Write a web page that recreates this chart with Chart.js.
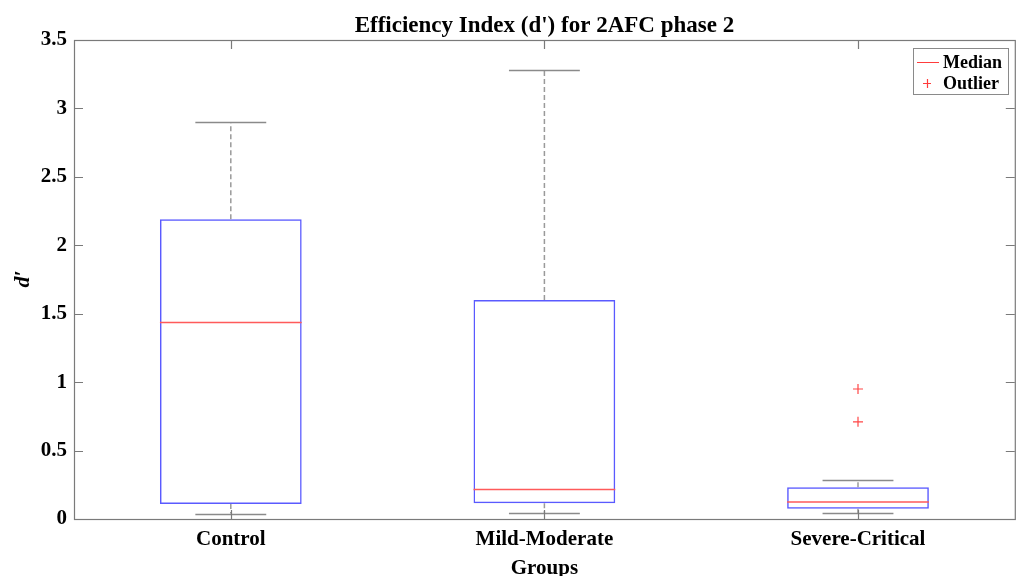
<!DOCTYPE html>
<html>
<head>
<meta charset="utf-8">
<script src="https://cdn.jsdelivr.net/npm/chart.js@4.4.1/dist/chart.umd.min.js"></script>
<style>
  html, body { margin: 0; padding: 0; background: #fff; }
  #wrap { width: 1021px; height: 576px; position: relative; }
</style>
</head>
<body>
<div id="wrap"><canvas id="c" width="1021" height="576"></canvas></div>
<script>
// ---- data ----
const categories = ['Control', 'Mild-Moderate', 'Severe-Critical'];
const lowerWhisker = [0.04, 0.045, 0.042];
const q1Values = [0.11, 0.115, 0.074];
const medianValues = [1.435, 0.215, 0.125];
const q3Values = [2.19, 1.60, 0.232];
const upperWhisker = [2.90, 3.28, 0.283];
const outlierCategory = ['Severe-Critical', 'Severe-Critical'];
const outlierValues = [0.95, 0.71];
const yTickValues = [0, 0.5, 1, 1.5, 2, 2.5, 3, 3.5];

const titleText = "Efficiency Index (d') for 2AFC phase 2";
const xTitleText = 'Groups';
const yTitleText = "d\u2032";

const FONT = "'Liberation Serif', 'Times New Roman', serif";
const FRAME = '#7a7a7a';

const boxPlugin = {
  id: 'boxExtras',
  afterDatasetsDraw(chart) {
    const ctx = chart.ctx;
    const x = chart.scales.x, y = chart.scales.y;
    const meta = chart.getDatasetMeta(0);
    ctx.save();
    categories.forEach((c, i) => {
      const cx = x.getPixelForValue(i);
      const bar = meta.data[i];
      const bw = bar.width;
      const capHalf = bw * 0.25;
      // dashed whiskers
      ctx.strokeStyle = '#9a9a9a';
      ctx.lineWidth = 1.5;
      ctx.setLineDash([5, 3]);
      ctx.beginPath();
      ctx.moveTo(cx, y.getPixelForValue(q3Values[i]));
      ctx.lineTo(cx, y.getPixelForValue(upperWhisker[i]));
      ctx.moveTo(cx, y.getPixelForValue(q1Values[i]));
      ctx.lineTo(cx, y.getPixelForValue(lowerWhisker[i]));
      ctx.stroke();
      ctx.setLineDash([]);
      // caps
      ctx.strokeStyle = '#8a8a8a';
      ctx.beginPath();
      [upperWhisker[i], lowerWhisker[i]].forEach(v => {
        const py = Math.round(y.getPixelForValue(v)) + 0.5;
        ctx.moveTo(cx - capHalf, py);
        ctx.lineTo(cx + capHalf, py);
      });
      ctx.stroke();
      // median
      ctx.strokeStyle = 'rgb(255,90,90)';
      ctx.lineWidth = 1.5;
      ctx.beginPath();
      const my = y.getPixelForValue(medianValues[i]);
      ctx.moveTo(cx - bw / 2, my);
      ctx.lineTo(cx + bw / 2, my);
      ctx.stroke();
    });
    ctx.restore();
  },
  afterDraw(chart) {
    const ctx = chart.ctx;
    const x = chart.scales.x, y = chart.scales.y;
    const ca = chart.chartArea;
    ctx.save();
    // frame
    ctx.strokeStyle = FRAME;
    ctx.lineWidth = 1.2;
    ctx.strokeRect(ca.left + 0.5, ca.top + 0.5, ca.right - ca.left, ca.bottom - ca.top);
    // inward ticks
    const tl = 9;
    ctx.beginPath();
    yTickValues.forEach(v => {
      const py = Math.round(y.getPixelForValue(v)) + 0.5;
      ctx.moveTo(ca.left, py); ctx.lineTo(ca.left + tl, py);
      ctx.moveTo(ca.right, py); ctx.lineTo(ca.right - tl, py);
    });
    categories.forEach((c, i) => {
      const px = Math.round(x.getPixelForValue(i)) + 0.5;
      ctx.moveTo(px, ca.top); ctx.lineTo(px, ca.top + tl);
      ctx.moveTo(px, ca.bottom); ctx.lineTo(px, ca.bottom - tl);
    });
    ctx.stroke();
    // titles
    ctx.fillStyle = '#000';
    ctx.textAlign = 'center';
    ctx.textBaseline = 'alphabetic';
    ctx.font = 'bold 23px ' + FONT;
    ctx.fillText(titleText, (ca.left + ca.right) / 2, 32);
    ctx.font = 'bold 21px ' + FONT;
    ctx.fillText(xTitleText, (ca.left + ca.right) / 2, 574);
    ctx.save();
    ctx.translate(29, 279);
    ctx.rotate(-Math.PI / 2);
    ctx.font = 'italic bold 22px ' + FONT;
    ctx.textBaseline = 'alphabetic';
    ctx.fillText(yTitleText, 0, 0);
    ctx.restore();
    // legend
    const lx = 913, ly = 48, lw = 95, lh = 46;
    ctx.fillStyle = '#fff';
    ctx.fillRect(lx, ly, lw, lh);
    ctx.strokeStyle = '#8a8a8a';
    ctx.lineWidth = 1;
    ctx.strokeRect(lx + 0.5, ly + 0.5, lw, lh);
    ctx.strokeStyle = 'rgb(255,60,60)';
    ctx.lineWidth = 1.2;
    ctx.beginPath();
    ctx.moveTo(917, 62.5); ctx.lineTo(939, 62.5);
    ctx.moveTo(923, 83.5); ctx.lineTo(931, 83.5);
    ctx.moveTo(927.5, 79); ctx.lineTo(927.5, 88);
    ctx.stroke();
    ctx.fillStyle = '#000';
    ctx.textAlign = 'left';
    ctx.textBaseline = 'middle';
    ctx.font = 'bold 18px ' + FONT;
    ctx.fillText('Median', 943, 63);
    ctx.fillText('Outlier', 943, 84);
    ctx.restore();
  }
};

const outlierData = outlierValues.map((v, i) => ({ x: outlierCategory[i], y: v }));

new Chart(document.getElementById('c'), {
  data: {
    labels: categories,
    datasets: [
      {
        type: 'bar',
        label: 'Box',
        data: categories.map((c, i) => [q1Values[i], q3Values[i]]),
        backgroundColor: 'rgba(0,0,0,0)',
        borderColor: 'rgb(90,90,255)',
        borderWidth: 1.5,
        borderSkipped: false,
        barPercentage: 0.452,
        categoryPercentage: 1.0
      },
      {
        type: 'line',
        label: 'Outlier',
        data: outlierData,
        showLine: false,
        pointStyle: 'cross',
        pointRadius: 5,
        pointBorderColor: 'rgb(255,70,70)',
        pointBorderWidth: 1.2,
        pointBackgroundColor: 'rgb(255,70,70)'
      }
    ]
  },
  options: {
    responsive: false,
    animation: false,
    devicePixelRatio: 1,
    layout: { padding: { top: 40, right: 5, left: 0, bottom: 0 } },
    plugins: { legend: { display: false }, title: { display: false }, tooltip: { enabled: false } },
    scales: {
      x: {
        type: 'category',
        offset: true,
        grid: { display: false, drawTicks: false },
        border: { display: false },
        ticks: { color: '#000', font: { family: FONT, size: 21, weight: 'bold' }, padding: 8 },
        afterFit: s => { s.height = 57; }
      },
      y: {
        min: 0, max: 3.5,
        grid: { display: false, drawTicks: false },
        border: { display: false },
        afterBuildTicks: s => { s.ticks = yTickValues.map(v => ({ value: v })); },
        ticks: {
          color: '#000', font: { family: FONT, size: 21, weight: 'bold' }, padding: 7,
          callback: v => String(v)
        },
        afterFit: s => { s.width = 74; }
      }
    }
  },
  plugins: [boxPlugin]
});
</script>
</body>
</html>
